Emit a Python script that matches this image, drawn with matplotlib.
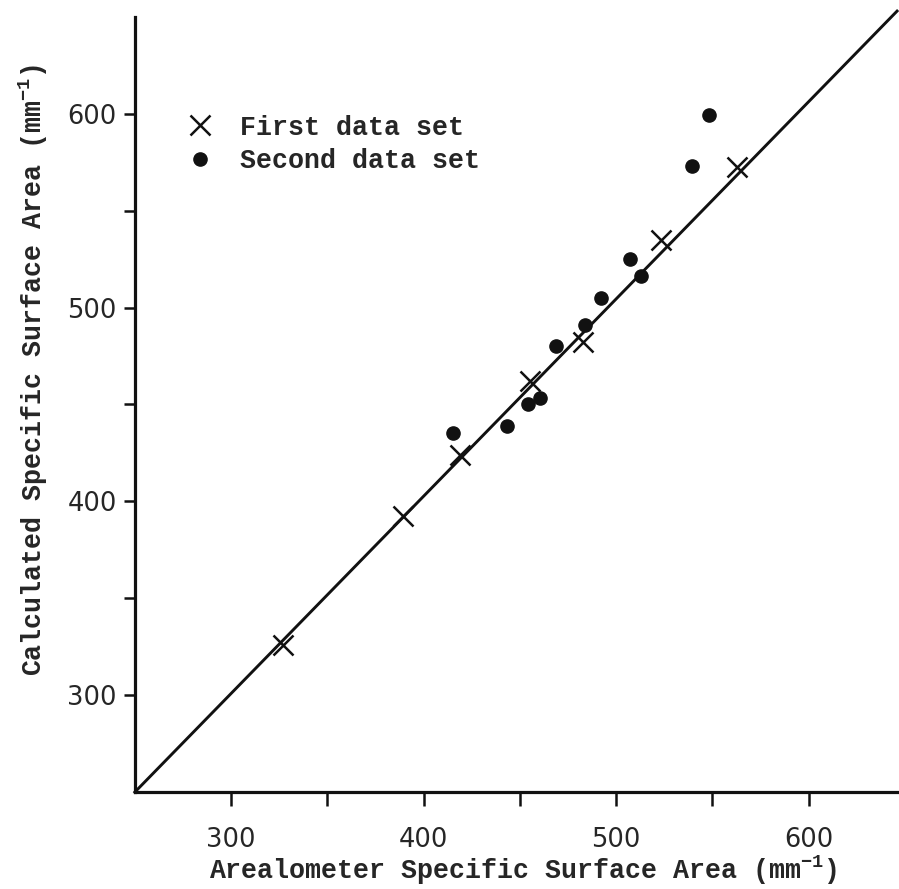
import matplotlib
matplotlib.use("Agg")
import matplotlib.pyplot as plt

# values
first_x = [327, 389.5, 419, 455.5, 483, 523.5, 563]
first_y = [326, 392.5, 424, 462, 482, 535, 572.5]
second_x = [415.5, 443.5, 454.5, 460.5, 469, 484, 492, 507.5, 513, 539.5, 548.5]
second_y = [435.5, 439, 450, 453.5, 480, 491, 505, 525, 516.5, 573, 599.5]
fit_x = [250, 646]
fit_y = [250, 653]

major_ticks = [300, 400, 500, 600]
minor_ticks = [350, 450, 550]

text_col = "#262626"
mono = "Liberation Mono"
plt.rcParams["mathtext.default"] = "regular"

fig = plt.figure(figsize=(8.99, 8.89), dpi=100)
ax = fig.add_axes([0.150, 0.109, 0.850, 0.872])

ax.plot(fit_x, fit_y, color="#111111", lw=2.1, clip_on=False, zorder=2)
ax.plot(first_x, first_y, ls="none", marker="x", ms=14, mew=1.8,
        color="#111111", label="First data set", zorder=3)
ax.plot(second_x, second_y, ls="none", marker="o", ms=9.5,
        color="#111111", label="Second data set", zorder=3)

ax.set_xlim(250, 647)
ax.set_ylim(250, 650)

for side in ["top", "right"]:
    ax.spines[side].set_visible(False)
for side in ["left", "bottom"]:
    ax.spines[side].set_linewidth(2.3)
    ax.spines[side].set_color("#111111")

ax.set_xticks(major_ticks)
ax.set_yticks(major_ticks)
ax.set_xticks(minor_ticks, minor=True)
ax.set_yticks(minor_ticks, minor=True)
ax.tick_params(axis="x", which="both", direction="out", length=10, width=1.8,
               pad=15, labelsize=18.5, labelcolor=text_col, color="#111111")
ax.tick_params(axis="y", which="both", direction="out", length=8, width=1.8,
               pad=5, labelsize=18.5, labelcolor=text_col, color="#111111")

ax.set_xlabel("Arealometer Specific Surface Area (mm$^{-1}$)",
              family=mono, fontsize=19.2, weight="bold", color=text_col)
ax.set_ylabel("Calculated Specific Surface Area (mm$^{-1}$)",
              family=mono, fontsize=19.2, weight="bold", color=text_col)
ax.xaxis.set_label_coords(0.508, -0.080)
ax.yaxis.set_label_coords(-0.111, 0.545)

ax.legend(loc="upper left", bbox_to_anchor=(0.068, 0.874), frameon=False,
          borderpad=0, borderaxespad=0, handlelength=1.0, handletextpad=1.0,
          labelspacing=0.28,
          prop={"family": mono, "size": 19.2, "weight": "bold"},
          labelcolor=text_col)

fig.savefig("out.png", dpi=100)
